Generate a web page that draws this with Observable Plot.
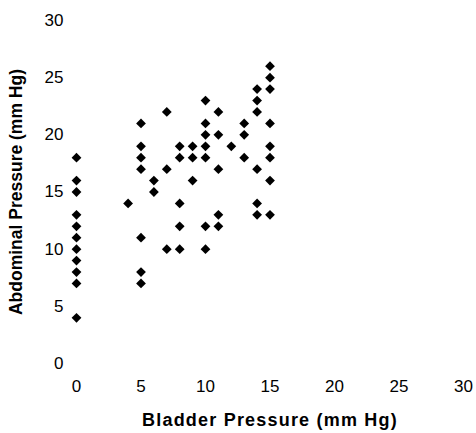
<!DOCTYPE html>
<html>
<head>
<meta charset="utf-8">
<script src="https://cdn.jsdelivr.net/npm/d3@7"></script>
<script src="https://cdn.jsdelivr.net/npm/@observablehq/plot@0.6"></script>
<style>
  html, body { margin: 0; padding: 0; background: #fff; }
  #chart svg { display: block; }
</style>
</head>
<body>
<div id="chart"></div>
<script>
const bladder   = [0,0,0,0,0,0,0,0,0,0,0, 4, 5,5,5,5,5,5,5, 6,6, 7,7,7, 8,8,8,8,8, 9,9,9, 10,10,10,10,10,10,10, 11,11,11,11,11, 12, 13,13,13, 14,14,14,14,14,14, 15,15,15,15,15,15,15,15];
const abdominal = [18,16,15,13,12,11,10,9,8,7,4, 14, 21,19,18,17,11,8,7, 16,15, 22,17,10, 19,18,14,12,10, 19,18,16, 23,21,20,19,18,12,10, 22,20,17,13,12, 19, 21,20,18, 24,23,22,17,14,13, 26,25,24,21,19,18,16,13];
const xTicks = [0, 5, 10, 15, 20, 25, 30];
const yTicks = [0, 5, 10, 15, 20, 25, 30];
const xLabel = "Bladder Pressure (mm Hg)";
const yLabel = "Abdominal Pressure (mm Hg)";

const points = bladder.map((b, i) => ({bladder: b, abdominal: abdominal[i]}));

const font = "'Liberation Sans', Arial, sans-serif";

const chart = Plot.plot({
  width: 476,
  height: 433,
  marginLeft: 76,
  marginRight: 13,
  marginTop: 20,
  marginBottom: 70,
  style: {fontFamily: font, background: "#fff", color: "#000", overflow: "visible"},
  x: {domain: [0, 30]},
  y: {domain: [0, 30]},
  marks: [
    Plot.axisX({ticks: xTicks, tickSize: 0, tickPadding: 16, fontSize: 17, label: null}),
    Plot.axisY({ticks: yTicks, tickSize: 0, tickPadding: 13, fontSize: 17, label: null}),
    Plot.dot(points, {x: "bladder", y: "abdominal", symbol: "diamond2", r: 4.4, fill: "#000", stroke: "none"}),
    Plot.text([xLabel], {frameAnchor: "bottom", textAnchor: "middle", dy: 62, fontSize: 18, fontWeight: "bold", fill: "#000", text: d => d}),
    Plot.text([yLabel], {frameAnchor: "left", textAnchor: "middle", rotate: -90, dx: -60, dy: 0, fontSize: 17.5, fontWeight: "bold", fill: "#000", text: d => d})
  ]
});
chart.querySelectorAll("text").forEach(t => {
  if (t.textContent === xLabel) t.setAttribute("letter-spacing", "1.2");
});
document.getElementById("chart").appendChild(chart);
</script>
</body>
</html>
